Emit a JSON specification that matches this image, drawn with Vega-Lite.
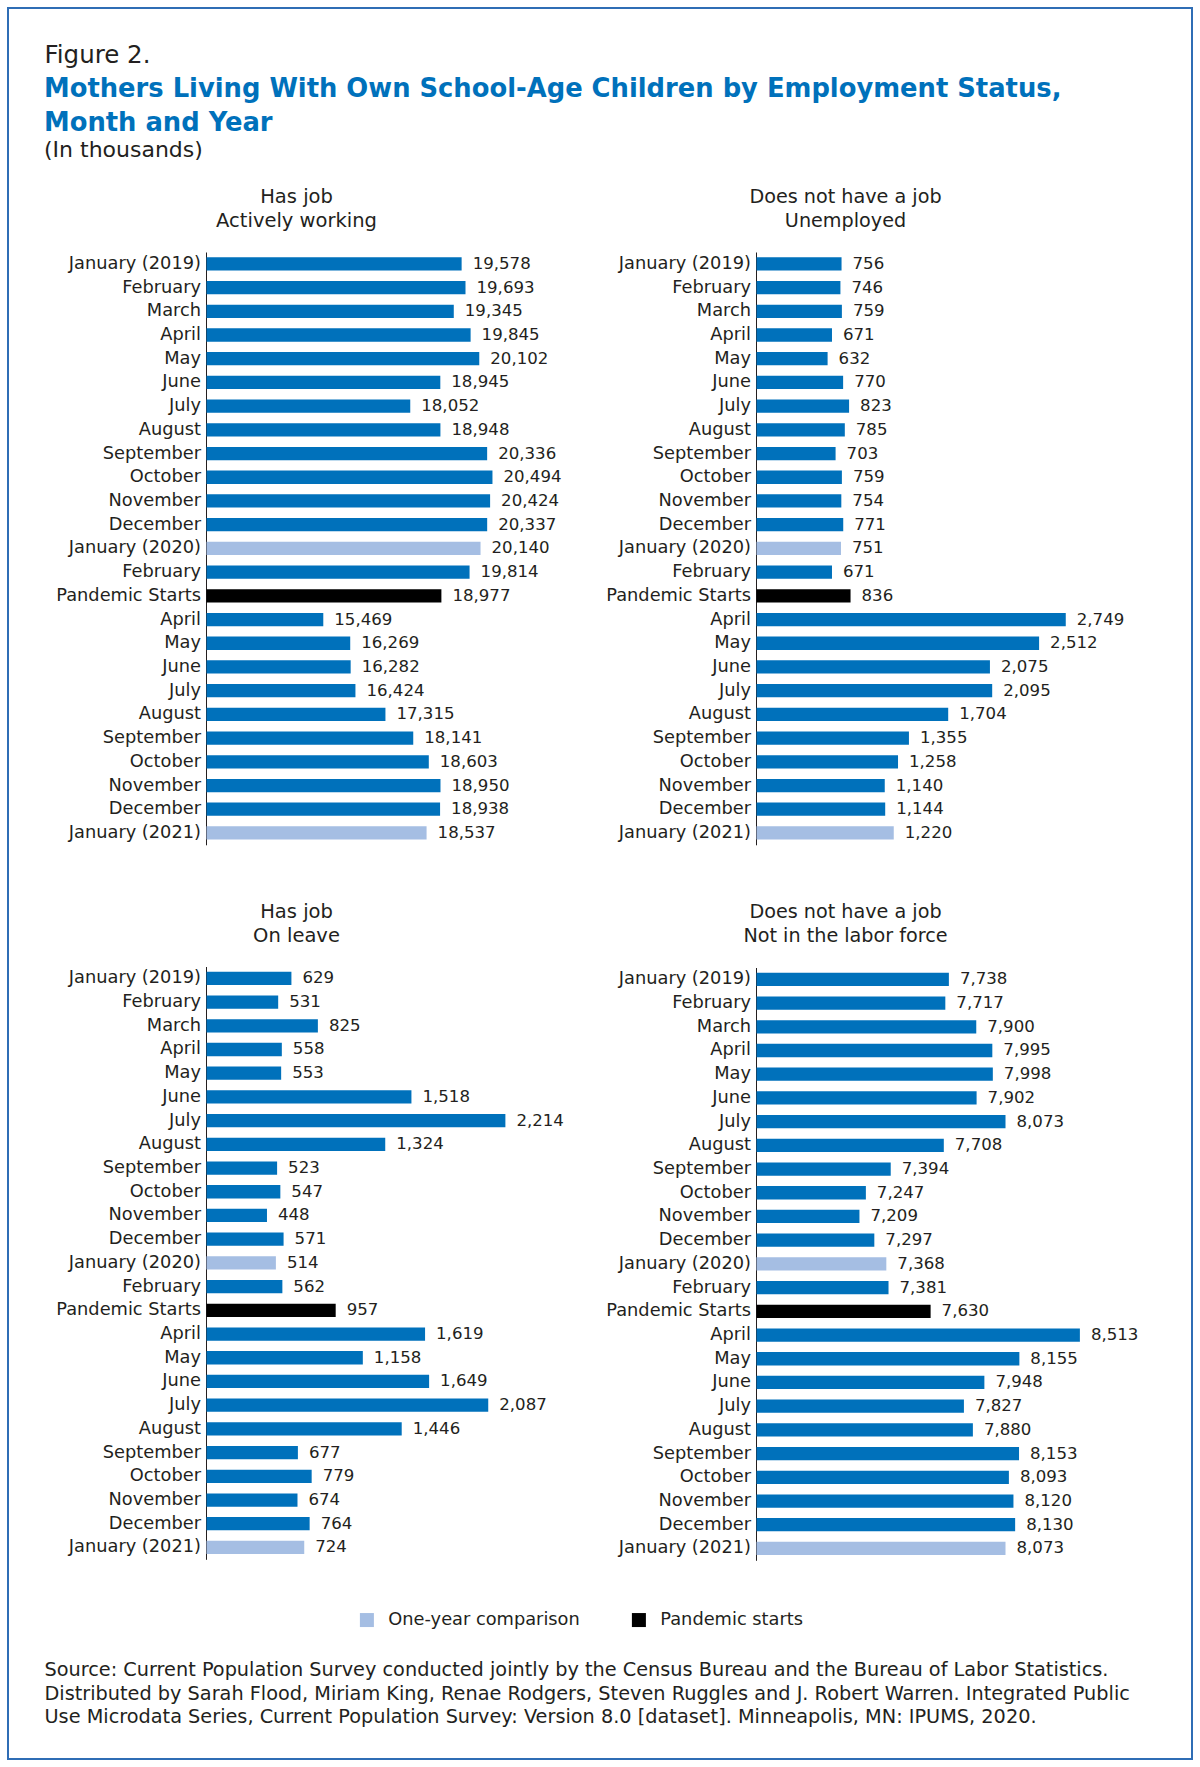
{
  "$schema": "https://vega.github.io/schema/vega-lite/v6.json",
  "width": 1184,
  "height": 1751,
  "autosize": {"type": "none"},
  "padding": {"left": 8, "top": 8, "right": 8, "bottom": 8},
  "background": "white",
  "view": {"stroke": "#2f6db5", "strokeWidth": 2, "fill": "white"},
  "title": {
    "text": ["Mothers Living With Own School-Age Children by Employment Status,", "Month and Year"],
    "subtitle": "(In thousands)",
    "anchor": "start", "frame": "group", "orient": "top",
    "dx": 36, "offset": -154.3,
    "font": "DejaVu Sans", "fontSize": 25.8, "fontWeight": "bold", "color": "#0071bb",
    "lineHeight": 34, "baseline": "top",
    "subtitleFont": "DejaVu Sans", "subtitleFontSize": 22, "subtitleColor": "#231f20",
    "subtitleFontWeight": "normal", "subtitlePadding": 3.6
  },
  "data": {"values": [
    {"panel": "Actively working", "period": "2019-01", "value": 19578, "status": "Monthly"},
    {"panel": "Actively working", "period": "2019-02", "value": 19693, "status": "Monthly"},
    {"panel": "Actively working", "period": "2019-03", "value": 19345, "status": "Monthly"},
    {"panel": "Actively working", "period": "2019-04", "value": 19845, "status": "Monthly"},
    {"panel": "Actively working", "period": "2019-05", "value": 20102, "status": "Monthly"},
    {"panel": "Actively working", "period": "2019-06", "value": 18945, "status": "Monthly"},
    {"panel": "Actively working", "period": "2019-07", "value": 18052, "status": "Monthly"},
    {"panel": "Actively working", "period": "2019-08", "value": 18948, "status": "Monthly"},
    {"panel": "Actively working", "period": "2019-09", "value": 20336, "status": "Monthly"},
    {"panel": "Actively working", "period": "2019-10", "value": 20494, "status": "Monthly"},
    {"panel": "Actively working", "period": "2019-11", "value": 20424, "status": "Monthly"},
    {"panel": "Actively working", "period": "2019-12", "value": 20337, "status": "Monthly"},
    {"panel": "Actively working", "period": "2020-01", "value": 20140, "status": "One-year comparison"},
    {"panel": "Actively working", "period": "2020-02", "value": 19814, "status": "Monthly"},
    {"panel": "Actively working", "period": "2020-03", "value": 18977, "status": "Pandemic starts"},
    {"panel": "Actively working", "period": "2020-04", "value": 15469, "status": "Monthly"},
    {"panel": "Actively working", "period": "2020-05", "value": 16269, "status": "Monthly"},
    {"panel": "Actively working", "period": "2020-06", "value": 16282, "status": "Monthly"},
    {"panel": "Actively working", "period": "2020-07", "value": 16424, "status": "Monthly"},
    {"panel": "Actively working", "period": "2020-08", "value": 17315, "status": "Monthly"},
    {"panel": "Actively working", "period": "2020-09", "value": 18141, "status": "Monthly"},
    {"panel": "Actively working", "period": "2020-10", "value": 18603, "status": "Monthly"},
    {"panel": "Actively working", "period": "2020-11", "value": 18950, "status": "Monthly"},
    {"panel": "Actively working", "period": "2020-12", "value": 18938, "status": "Monthly"},
    {"panel": "Actively working", "period": "2021-01", "value": 18537, "status": "One-year comparison"},
    {"panel": "Unemployed", "period": "2019-01", "value": 756, "status": "Monthly"},
    {"panel": "Unemployed", "period": "2019-02", "value": 746, "status": "Monthly"},
    {"panel": "Unemployed", "period": "2019-03", "value": 759, "status": "Monthly"},
    {"panel": "Unemployed", "period": "2019-04", "value": 671, "status": "Monthly"},
    {"panel": "Unemployed", "period": "2019-05", "value": 632, "status": "Monthly"},
    {"panel": "Unemployed", "period": "2019-06", "value": 770, "status": "Monthly"},
    {"panel": "Unemployed", "period": "2019-07", "value": 823, "status": "Monthly"},
    {"panel": "Unemployed", "period": "2019-08", "value": 785, "status": "Monthly"},
    {"panel": "Unemployed", "period": "2019-09", "value": 703, "status": "Monthly"},
    {"panel": "Unemployed", "period": "2019-10", "value": 759, "status": "Monthly"},
    {"panel": "Unemployed", "period": "2019-11", "value": 754, "status": "Monthly"},
    {"panel": "Unemployed", "period": "2019-12", "value": 771, "status": "Monthly"},
    {"panel": "Unemployed", "period": "2020-01", "value": 751, "status": "One-year comparison"},
    {"panel": "Unemployed", "period": "2020-02", "value": 671, "status": "Monthly"},
    {"panel": "Unemployed", "period": "2020-03", "value": 836, "status": "Pandemic starts"},
    {"panel": "Unemployed", "period": "2020-04", "value": 2749, "status": "Monthly"},
    {"panel": "Unemployed", "period": "2020-05", "value": 2512, "status": "Monthly"},
    {"panel": "Unemployed", "period": "2020-06", "value": 2075, "status": "Monthly"},
    {"panel": "Unemployed", "period": "2020-07", "value": 2095, "status": "Monthly"},
    {"panel": "Unemployed", "period": "2020-08", "value": 1704, "status": "Monthly"},
    {"panel": "Unemployed", "period": "2020-09", "value": 1355, "status": "Monthly"},
    {"panel": "Unemployed", "period": "2020-10", "value": 1258, "status": "Monthly"},
    {"panel": "Unemployed", "period": "2020-11", "value": 1140, "status": "Monthly"},
    {"panel": "Unemployed", "period": "2020-12", "value": 1144, "status": "Monthly"},
    {"panel": "Unemployed", "period": "2021-01", "value": 1220, "status": "One-year comparison"},
    {"panel": "On leave", "period": "2019-01", "value": 629, "status": "Monthly"},
    {"panel": "On leave", "period": "2019-02", "value": 531, "status": "Monthly"},
    {"panel": "On leave", "period": "2019-03", "value": 825, "status": "Monthly"},
    {"panel": "On leave", "period": "2019-04", "value": 558, "status": "Monthly"},
    {"panel": "On leave", "period": "2019-05", "value": 553, "status": "Monthly"},
    {"panel": "On leave", "period": "2019-06", "value": 1518, "status": "Monthly"},
    {"panel": "On leave", "period": "2019-07", "value": 2214, "status": "Monthly"},
    {"panel": "On leave", "period": "2019-08", "value": 1324, "status": "Monthly"},
    {"panel": "On leave", "period": "2019-09", "value": 523, "status": "Monthly"},
    {"panel": "On leave", "period": "2019-10", "value": 547, "status": "Monthly"},
    {"panel": "On leave", "period": "2019-11", "value": 448, "status": "Monthly"},
    {"panel": "On leave", "period": "2019-12", "value": 571, "status": "Monthly"},
    {"panel": "On leave", "period": "2020-01", "value": 514, "status": "One-year comparison"},
    {"panel": "On leave", "period": "2020-02", "value": 562, "status": "Monthly"},
    {"panel": "On leave", "period": "2020-03", "value": 957, "status": "Pandemic starts"},
    {"panel": "On leave", "period": "2020-04", "value": 1619, "status": "Monthly"},
    {"panel": "On leave", "period": "2020-05", "value": 1158, "status": "Monthly"},
    {"panel": "On leave", "period": "2020-06", "value": 1649, "status": "Monthly"},
    {"panel": "On leave", "period": "2020-07", "value": 2087, "status": "Monthly"},
    {"panel": "On leave", "period": "2020-08", "value": 1446, "status": "Monthly"},
    {"panel": "On leave", "period": "2020-09", "value": 677, "status": "Monthly"},
    {"panel": "On leave", "period": "2020-10", "value": 779, "status": "Monthly"},
    {"panel": "On leave", "period": "2020-11", "value": 674, "status": "Monthly"},
    {"panel": "On leave", "period": "2020-12", "value": 764, "status": "Monthly"},
    {"panel": "On leave", "period": "2021-01", "value": 724, "status": "One-year comparison"},
    {"panel": "Not in the labor force", "period": "2019-01", "value": 7738, "status": "Monthly"},
    {"panel": "Not in the labor force", "period": "2019-02", "value": 7717, "status": "Monthly"},
    {"panel": "Not in the labor force", "period": "2019-03", "value": 7900, "status": "Monthly"},
    {"panel": "Not in the labor force", "period": "2019-04", "value": 7995, "status": "Monthly"},
    {"panel": "Not in the labor force", "period": "2019-05", "value": 7998, "status": "Monthly"},
    {"panel": "Not in the labor force", "period": "2019-06", "value": 7902, "status": "Monthly"},
    {"panel": "Not in the labor force", "period": "2019-07", "value": 8073, "status": "Monthly"},
    {"panel": "Not in the labor force", "period": "2019-08", "value": 7708, "status": "Monthly"},
    {"panel": "Not in the labor force", "period": "2019-09", "value": 7394, "status": "Monthly"},
    {"panel": "Not in the labor force", "period": "2019-10", "value": 7247, "status": "Monthly"},
    {"panel": "Not in the labor force", "period": "2019-11", "value": 7209, "status": "Monthly"},
    {"panel": "Not in the labor force", "period": "2019-12", "value": 7297, "status": "Monthly"},
    {"panel": "Not in the labor force", "period": "2020-01", "value": 7368, "status": "One-year comparison"},
    {"panel": "Not in the labor force", "period": "2020-02", "value": 7381, "status": "Monthly"},
    {"panel": "Not in the labor force", "period": "2020-03", "value": 7630, "status": "Pandemic starts"},
    {"panel": "Not in the labor force", "period": "2020-04", "value": 8513, "status": "Monthly"},
    {"panel": "Not in the labor force", "period": "2020-05", "value": 8155, "status": "Monthly"},
    {"panel": "Not in the labor force", "period": "2020-06", "value": 7948, "status": "Monthly"},
    {"panel": "Not in the labor force", "period": "2020-07", "value": 7827, "status": "Monthly"},
    {"panel": "Not in the labor force", "period": "2020-08", "value": 7880, "status": "Monthly"},
    {"panel": "Not in the labor force", "period": "2020-09", "value": 8153, "status": "Monthly"},
    {"panel": "Not in the labor force", "period": "2020-10", "value": 8093, "status": "Monthly"},
    {"panel": "Not in the labor force", "period": "2020-11", "value": 8120, "status": "Monthly"},
    {"panel": "Not in the labor force", "period": "2020-12", "value": 8130, "status": "Monthly"},
    {"panel": "Not in the labor force", "period": "2021-01", "value": 8073, "status": "One-year comparison"}
  ]},
  "resolve": {
    "scale": {"x": "independent", "y": "independent"},
    "axis": {"x": "independent", "y": "independent"}
  },
  "layer": [
    {
      "transform": [{"filter": "datum.panel == 'Actively working'"}],
      "encoding": {
        "y": {
          "field": "period", "type": "nominal", "sort": "ascending",
          "scale": {"range": [244, 836.8], "paddingInner": 0.44, "paddingOuter": 0.22},
          "axis": {
            "orient": "left", "offset": -198,
            "labelExpr": "datum.value == '2020-03' ? 'Pandemic Starts' : slice(datum.value, 5) == '01' ? 'January (' + slice(datum.value, 0, 4) + ')' : ['', 'January', 'February', 'March', 'April', 'May', 'June', 'July', 'August', 'September', 'October', 'November', 'December'][toNumber(slice(datum.value, 5))]",
            "title": "Figure 2.", "titleX": -162, "titleY": 54, "titleAngle": 0,
            "titleAlign": "left", "titleBaseline": "alphabetic", "titleFontSize": 24.5
          }
        },
        "x": {
          "field": "value", "type": "quantitative",
          "scale": {"domain": [12000, 21000], "range": [198.5, 501.5], "zero": false, "nice": false},
          "axis": {
            "orient": "top", "labels": false, "ticks": false, "domain": false, "grid": false,
            "title": ["Has job", "Actively working"], "titleX": 288, "titleY": 179.8,
            "titleAngle": 0, "titleAlign": "center", "titleBaseline": "top",
            "titleFontSize": 19.5, "titleLineHeight": 23.5
          }
        }
      },
      "layer": [
        {
          "mark": {"type": "bar"},
          "encoding": {
            "x2": {"datum": 12000},
            "color": {
              "field": "status", "type": "nominal",
              "scale": {"domain": ["Monthly", "One-year comparison", "Pandemic starts"], "range": ["#0071bb", "#a5bee3", "#000000"]},
              "legend": {
                "orient": "none", "legendX": 350, "legendY": 1603, "direction": "horizontal",
                "title": null, "values": ["One-year comparison", "Pandemic starts"],
                "symbolType": "square", "symbolSize": 196, "symbolStrokeWidth": 0,
                "labelFont": "DejaVu Sans", "labelFontSize": 17.8, "labelColor": "#231f20", "labelLimit": 400,
                "labelOffset": 12.5, "columnPadding": 50, "padding": 0
              }
            }
          }
        },
        {
          "mark": {"type": "text", "align": "left", "baseline": "middle", "dx": 11},
          "encoding": {"text": {"field": "value", "type": "quantitative", "format": ","}}
        }
      ]
    },
    {
      "transform": [{"filter": "datum.panel == 'Unemployed'"}],
      "encoding": {
        "y": {
          "field": "period", "type": "nominal", "sort": "ascending",
          "scale": {"range": [244, 836.8], "paddingInner": 0.44, "paddingOuter": 0.22},
          "axis": {
            "orient": "left", "offset": -748,
            "labelExpr": "datum.value == '2020-03' ? 'Pandemic Starts' : slice(datum.value, 5) == '01' ? 'January (' + slice(datum.value, 0, 4) + ')' : ['', 'January', 'February', 'March', 'April', 'May', 'June', 'July', 'August', 'September', 'October', 'November', 'December'][toNumber(slice(datum.value, 5))]",
            "title": null
          }
        },
        "x": {
          "field": "value", "type": "quantitative",
          "scale": {"domain": [0, 2800], "range": [748.5, 1063.5], "zero": false, "nice": false},
          "axis": {
            "orient": "top", "labels": false, "ticks": false, "domain": false, "grid": false,
            "title": ["Does not have a job", "Unemployed"], "titleX": 837, "titleY": 179.8,
            "titleAngle": 0, "titleAlign": "center", "titleBaseline": "top",
            "titleFontSize": 19.2, "titleLineHeight": 23.5
          }
        }
      },
      "layer": [
        {
          "mark": {"type": "bar"},
          "encoding": {
            "x2": {"datum": 0},
            "color": {
              "field": "status", "type": "nominal",
              "scale": {"domain": ["Monthly", "One-year comparison", "Pandemic starts"], "range": ["#0071bb", "#a5bee3", "#000000"]},
              "legend": {
                "orient": "none", "legendX": 350, "legendY": 1603, "direction": "horizontal",
                "title": null, "values": ["One-year comparison", "Pandemic starts"],
                "symbolType": "square", "symbolSize": 196, "symbolStrokeWidth": 0,
                "labelFont": "DejaVu Sans", "labelFontSize": 17.8, "labelColor": "#231f20", "labelLimit": 400,
                "labelOffset": 12.5, "columnPadding": 50, "padding": 0
              }
            }
          }
        },
        {
          "mark": {"type": "text", "align": "left", "baseline": "middle", "dx": 11},
          "encoding": {"text": {"field": "value", "type": "quantitative", "format": ","}}
        }
      ]
    },
    {
      "transform": [{"filter": "datum.panel == 'On leave'"}],
      "encoding": {
        "y": {
          "field": "period", "type": "nominal", "sort": "ascending",
          "scale": {"range": [958.5, 1551.3], "paddingInner": 0.44, "paddingOuter": 0.22},
          "axis": {
            "orient": "left", "offset": -198,
            "labelExpr": "datum.value == '2020-03' ? 'Pandemic Starts' : slice(datum.value, 5) == '01' ? 'January (' + slice(datum.value, 0, 4) + ')' : ['', 'January', 'February', 'March', 'April', 'May', 'June', 'July', 'August', 'September', 'October', 'November', 'December'][toNumber(slice(datum.value, 5))]",
            "title": ["Source: Current Population Survey conducted jointly by the Census Bureau and the Bureau of Labor Statistics.", "Distributed by Sarah Flood, Miriam King, Renae Rodgers, Steven Ruggles and J. Robert Warren. Integrated Public", "Use Microdata Series, Current Population Survey: Version 8.0 [dataset]. Minneapolis, MN: IPUMS, 2020."],
            "titleX": -162, "titleY": 1652.7, "titleAngle": 0, "titleAlign": "left", "titleBaseline": "top",
            "titleFontSize": 19.3, "titleLineHeight": 23.5, "titleLimit": 1200
          }
        },
        "x": {
          "field": "value", "type": "quantitative",
          "scale": {"domain": [0, 2400], "range": [198.5, 522.5], "zero": false, "nice": false},
          "axis": {
            "orient": "top", "labels": false, "ticks": false, "domain": false, "grid": false,
            "title": ["Has job", "On leave"], "titleX": 288, "titleY": 894.8,
            "titleAngle": 0, "titleAlign": "center", "titleBaseline": "top",
            "titleFontSize": 19.5, "titleLineHeight": 23.5
          }
        }
      },
      "layer": [
        {
          "mark": {"type": "bar"},
          "encoding": {
            "x2": {"datum": 0},
            "color": {
              "field": "status", "type": "nominal",
              "scale": {"domain": ["Monthly", "One-year comparison", "Pandemic starts"], "range": ["#0071bb", "#a5bee3", "#000000"]},
              "legend": {
                "orient": "none", "legendX": 350, "legendY": 1603, "direction": "horizontal",
                "title": null, "values": ["One-year comparison", "Pandemic starts"],
                "symbolType": "square", "symbolSize": 196, "symbolStrokeWidth": 0,
                "labelFont": "DejaVu Sans", "labelFontSize": 17.8, "labelColor": "#231f20", "labelLimit": 400,
                "labelOffset": 12.5, "columnPadding": 50, "padding": 0
              }
            }
          }
        },
        {
          "mark": {"type": "text", "align": "left", "baseline": "middle", "dx": 11},
          "encoding": {"text": {"field": "value", "type": "quantitative", "format": ","}}
        }
      ]
    },
    {
      "transform": [{"filter": "datum.panel == 'Not in the labor force'"}],
      "encoding": {
        "y": {
          "field": "period", "type": "nominal", "sort": "ascending",
          "scale": {"range": [959.5, 1552.3], "paddingInner": 0.44, "paddingOuter": 0.22},
          "axis": {
            "orient": "left", "offset": -748,
            "labelExpr": "datum.value == '2020-03' ? 'Pandemic Starts' : slice(datum.value, 5) == '01' ? 'January (' + slice(datum.value, 0, 4) + ')' : ['', 'January', 'February', 'March', 'April', 'May', 'June', 'July', 'August', 'September', 'October', 'November', 'December'][toNumber(slice(datum.value, 5))]",
            "title": null
          }
        },
        "x": {
          "field": "value", "type": "quantitative",
          "scale": {"domain": [6600, 8700], "range": [748.5, 1103.5], "zero": false, "nice": false},
          "axis": {
            "orient": "top", "labels": false, "ticks": false, "domain": false, "grid": false,
            "title": ["Does not have a job", "Not in the labor force"], "titleX": 837, "titleY": 894.7,
            "titleAngle": 0, "titleAlign": "center", "titleBaseline": "top",
            "titleFontSize": 19.2, "titleLineHeight": 23.5
          }
        }
      },
      "layer": [
        {
          "mark": {"type": "bar"},
          "encoding": {
            "x2": {"datum": 6600},
            "color": {
              "field": "status", "type": "nominal",
              "scale": {"domain": ["Monthly", "One-year comparison", "Pandemic starts"], "range": ["#0071bb", "#a5bee3", "#000000"]},
              "legend": {
                "orient": "none", "legendX": 350, "legendY": 1603, "direction": "horizontal",
                "title": null, "values": ["One-year comparison", "Pandemic starts"],
                "symbolType": "square", "symbolSize": 196, "symbolStrokeWidth": 0,
                "labelFont": "DejaVu Sans", "labelFontSize": 17.8, "labelColor": "#231f20", "labelLimit": 400,
                "labelOffset": 12.5, "columnPadding": 50, "padding": 0
              }
            }
          }
        },
        {
          "mark": {"type": "text", "align": "left", "baseline": "middle", "dx": 11},
          "encoding": {"text": {"field": "value", "type": "quantitative", "format": ","}}
        }
      ]
    }
  ],
  "config": {
    "font": "DejaVu Sans",
    "axis": {
      "grid": false, "labelFont": "DejaVu Sans", "labelFontSize": 17.8, "labelColor": "#231f20",
      "titleFont": "DejaVu Sans", "titleFontWeight": "normal", "titleColor": "#231f20"
    },
    "axisY": {"domainColor": "#231f20", "domainWidth": 1, "ticks": false, "tickSize": 0, "labelPadding": 5.5, "labelLimit": 250},
    "text": {"font": "DejaVu Sans", "fontSize": 16.6, "color": "#231f20"}
  }
}
